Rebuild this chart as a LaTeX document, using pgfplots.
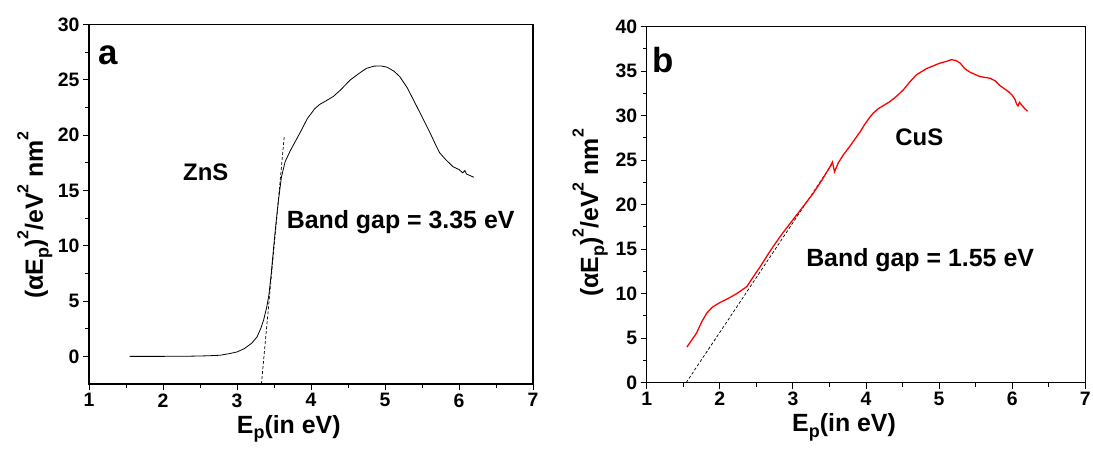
\documentclass[border=0pt]{standalone}
\usepackage{fontspec}
\setmainfont{Liberation Sans}
\usepackage{pgfplots}
\pgfplotsset{compat=1.18}
\newcommand{\fs}[1]{\fontsize{#1}{#1}\selectfont}
\pgfplotsset{
  myax/.style={
    scale only axis, anchor=south west,
    axis line style={line width=1.2bp},
    tick pos=left, tick align=outside,
    major tick length=6bp, minor tick length=4bp,
    every tick/.style={line width=1bp, black},
    xmin=1, xmax=7, xtick={1,2,...,7}, minor x tick num=1, minor y tick num=1,
    ticklabel style={font=\bfseries\fs{19.5}},
    /pgf/number format/assume math mode=true,
    xlabel={\bfseries\fs{25}E\raisebox{-0.45ex}{\fs{18}p}(in eV)},
    ylabel={\bfseries\fs{25}(αE\raisebox{-0.45ex}{\fs{18}p})\raisebox{1.1ex}{\fs{16}2}/eV\raisebox{1.1ex}{\fs{16}2} nm\raisebox{1.1ex}{\fs{16}2}},
    xlabel style={at={(axis description cs:0.45,0)}, anchor=base, yshift=-49bp, inner sep=0pt},
    ylabel style={anchor=center, inner sep=0pt},
    clip=false,
  }
}
\begin{document}
\begin{tikzpicture}
\path[use as bounding box] (0,0) rectangle (1093bp,451bp);
\begin{axis}[myax, at={(89bp,67bp)}, width=444bp, height=359.3bp,
  ymin=-2.5, ymax=30, ytick={0,5,...,30},
  ylabel style={at={(axis description cs:-0.122,0.47)}}]
\addplot[black, line width=0.8bp] coordinates {
(1.55,0.0) (1.8,0.0) (2.0,0.0) (2.2,0.01) (2.4,0.02) (2.6,0.05) (2.77,0.1)
(2.9,0.25) (3.0,0.4) (3.1,0.7) (3.2,1.2) (3.27,1.75) (3.32,2.5) (3.36,3.3)
(3.40,4.4) (3.43,5.5) (3.46,7.3) (3.49,9.5) (3.52,11.6) (3.56,14.1) (3.60,16.2)
(3.65,17.6) (3.72,18.6) (3.85,20.2) (3.95,21.5) (4.05,22.4) (4.12,22.8) (4.2,23.1)
(4.30,23.5) (4.40,24.1) (4.53,25.0) (4.65,25.6) (4.75,26.05) (4.85,26.25)
(4.95,26.27) (5.03,26.15) (5.12,25.8) (5.2,25.3) (5.30,24.3) (5.43,22.6)
(5.52,21.4) (5.61,20.2) (5.68,19.2) (5.74,18.4) (5.82,17.8) (5.92,17.15)
(6.0,16.9) (6.05,16.6) (6.08,16.8) (6.10,16.5) (6.15,16.35) (6.20,16.2)};
\addplot[black, line width=0.7bp, dash pattern=on 3bp off 2bp] coordinates {(3.33,-2.5) (3.64,20.0)};
\node[anchor=base west, font=\bfseries\fs{35}, inner sep=0pt] at (axis cs:1.13,26.4) {a};
\node[anchor=base west, font=\bfseries\fs{24}, inner sep=0pt] at (axis cs:2.27,15.94) {ZnS};
\node[anchor=base west, font=\bfseries\fs{25}, inner sep=0pt] at (axis cs:3.67,11.6) {Band gap = 3.35 eV};
\end{axis}
\begin{axis}[myax, at={(646.7bp,68.3bp)}, width=438.6bp, height=356bp,
  ymin=0, ymax=40, ytick={0,5,...,40},
  ylabel style={at={(axis description cs:-0.129,0.477)}}]
\addplot[black, line width=0.7bp, dash pattern=on 3bp off 2bp] coordinates {(1.54,0) (3.53,24.5)};
\addplot[red, line width=1.3bp] coordinates {
(1.55,4.0) (1.6,4.6) (1.68,5.55) (1.75,6.8) (1.82,7.8) (1.9,8.5) (2.0,9.0)
(2.1,9.4) (2.23,10.0) (2.37,10.8) (2.45,11.8) (2.55,13.0) (2.65,14.3) (2.73,15.3)
(2.85,16.7) (3.0,18.3) (3.15,19.9) (3.28,21.3) (3.4,22.8) (3.51,24.3) (3.54,24.8)
(3.57,23.7) (3.62,24.7) (3.69,25.6) (3.8,26.8) (3.92,28.2) (3.98,29.0) (4.05,29.8)
(4.1,30.3) (4.17,30.8) (4.33,31.6) (4.42,32.2) (4.51,32.9) (4.6,33.8) (4.69,34.6) (4.83,35.3)
(4.92,35.6) (5.01,35.9) (5.1,36.1) (5.17,36.3) (5.23,36.2) (5.29,35.9) (5.35,35.3)
(5.42,34.9) (5.5,34.6) (5.56,34.4) (5.70,34.2) (5.77,33.9) (5.83,33.4) (5.95,32.7)
(6.0,32.3) (6.04,31.8) (6.06,31.3) (6.08,31.1) (6.10,31.5) (6.13,31.2) (6.17,30.8) (6.21,30.5)};
\node[anchor=base west, font=\bfseries\fs{35}, inner sep=0pt] at (axis cs:1.08,34.9) {b};
\node[anchor=base west, font=\bfseries\fs{24}, inner sep=0pt] at (axis cs:4.40,26.7) {CuS};
\node[anchor=base west, font=\bfseries\fs{25}, inner sep=0pt] at (axis cs:3.18,13.03) {Band gap = 1.55 eV};
\end{axis}
\end{tikzpicture}
\end{document}
